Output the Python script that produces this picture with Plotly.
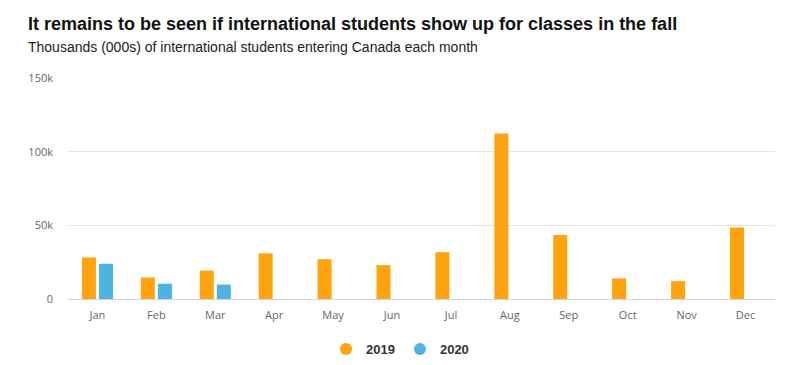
import plotly.graph_objects as go

months = ["Jan", "Feb", "Mar", "Apr", "May", "Jun", "Jul", "Aug", "Sep", "Oct", "Nov", "Dec"]
students_2019 = [28200, 14600, 19300, 31000, 27000, 23000, 31800, 112300, 43400, 14000, 12100, 48600]
students_2020 = [23900, 10400, 9800, None, None, None, None, None, None, None, None, None]
y_tickvals = [0, 50000, 100000, 150000]
y_ticktext = ["0", "50k", "100k", "150k"]

c2019 = "#FFA30F"
c2020 = "#4FB3E0"

fig = go.Figure()
fig.add_trace(go.Bar(x=months, y=students_2019, name="2019", marker_color=c2019,
                     marker_line_width=0, showlegend=False))
fig.add_trace(go.Bar(x=months, y=students_2020, name="2020", marker_color=c2020,
                     marker_line_width=0, showlegend=False))
# legend entries with circle symbols
fig.add_trace(go.Scatter(x=[None], y=[None], mode="markers", name="2019",
                         marker=dict(color=c2019, size=14, symbol="circle")))
fig.add_trace(go.Scatter(x=[None], y=[None], mode="markers", name="2020",
                         marker=dict(color=c2020, size=14, symbol="circle")))

L, R, T, B = 68, 17, 78, 65.5
W, H = 792, 365
ph = H - T - B
pw = W - L - R

def px_x(x):
    return (x - L) / pw

def px_y(y):
    return (H - B - y) / ph

fig.update_layout(
    width=W, height=H,
    margin=dict(l=L, r=R, t=T, b=B, pad=0),
    paper_bgcolor="white", plot_bgcolor="white",
    barmode="group", bargap=0.42, bargroupgap=0.18,
    font=dict(family="Open Sans, Arial, sans-serif", color="#666666", size=11),
    legend=dict(orientation="h", xref="container", x=400 / W, xanchor="center",
                y=16 / H, yanchor="middle", yref="container",
                font=dict(family="Liberation Sans, Arial, sans-serif", size=13, color="#333333",
                          weight="bold"),
                itemsizing="constant", traceorder="normal", itemwidth=30,
                bgcolor="rgba(0,0,0,0)"),
    annotations=[
        dict(text="<b>It remains to be seen if international students show up for classes in the fall</b>",
             xref="paper", yref="paper", x=px_x(26), y=px_y(24), xanchor="left", yanchor="middle",
             showarrow=False, font=dict(family="Liberation Sans, Arial, sans-serif", size=18, color="#111111")),
        dict(text="Thousands (000s) of international students entering Canada each month",
             xref="paper", yref="paper", x=px_x(26), y=px_y(47), xanchor="left", yanchor="middle",
             showarrow=False, font=dict(family="Liberation Sans, Arial, sans-serif", size=14, color="#222222")),
    ],
)
fig.update_xaxes(showgrid=False, showline=True, linecolor="#ccd6eb", linewidth=1,
                 ticks="", ticklabelstandoff=6, tickfont=dict(size=11, color="#666666"),
                 fixedrange=True)
fig.update_yaxes(range=[0, 150000], tickvals=y_tickvals, ticktext=y_ticktext,
                 showgrid=True, gridcolor="#e6e6e6", gridwidth=1, zeroline=False,
                 ticks="", ticklabelstandoff=14, tickfont=dict(size=11, color="#666666"),
                 fixedrange=True)

fig.write_html("out.html", config={"displayModeBar": False},
               post_script="document.body.style.margin='0';")
